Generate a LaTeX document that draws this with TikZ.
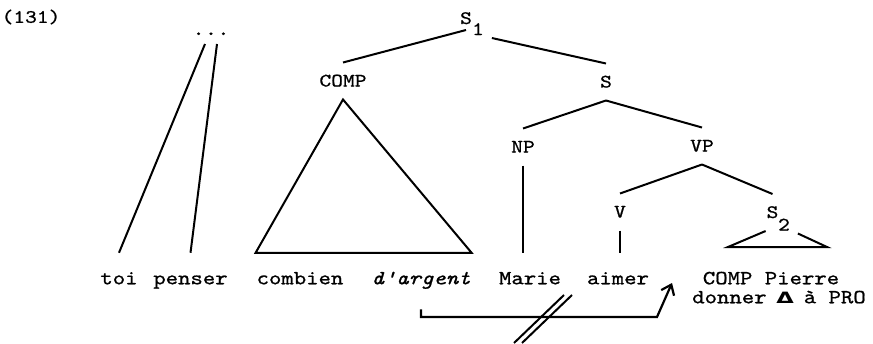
\documentclass[tikz,border=0pt]{standalone}
\usepackage{fontspec}
\usetikzlibrary{arrows.meta}
% typewriter face for labels and the example sentence, widened to Courier proportions
\newfontfamily\tw[FakeStretch=1.18,FakeBold=0.9,ItalicFont=lmmono10-italic.otf]{lmmono10-regular.otf}
\newfontfamily\symf{DejaVu Sans}
\newcommand\catf{\tw\fontsize{9.5pt}{11pt}\selectfont}
\newcommand\wordf{\tw\fontsize{10pt}{12pt}\selectfont}
\newcommand\deltamark{\makebox[6.2pt]{\scalebox{1.45}[1]{\symf\bfseries\fontsize{7.8pt}{9pt}\selectfont Δ}}}
\begin{document}
\begin{tikzpicture}[x=0.5pt,y=-0.5pt,line width=1pt,
  cat/.style={font=\catf,inner xsep=0pt,inner ysep=6pt,text height=5.5pt,text depth=0pt},
  sub/.style={font=\catf,inner xsep=3.5pt,inner ysep=1pt,text height=5pt,text depth=0pt},
  word/.style={font=\wordf,inner xsep=0pt,inner ysep=9.5pt,text height=5.75pt,text depth=0pt},
  trace/.style={line width=1.1pt,-{Straight Barb[length=4.5pt,width=7pt]}}]
\useasboundingbox (0,0) rectangle (873,343);

% example number
\node[font=\tw\fontsize{9.5pt}{11pt}\selectfont,inner sep=0pt] (num) at (31,17) {(131)};

% category labels
\node[cat,inner ysep=2.5pt] (s1) at (466,18.5) {S};
\node[sub] (s1sub) at (478,30) {1};
\node[cat] (comp) at (343,81) {COMP};
\node[cat] (s) at (606,82) {S};
\node[cat] (np) at (523,147) {NP};
\node[cat] (vp) at (702,146) {VP};
\node[cat] (v) at (620,212) {V};
\node[cat] (s2) at (772.5,212.5) {S};
\node[sub] (s2sub) at (784,225.5) {2};
\node[font=\wordf,inner xsep=0pt,inner ysep=4pt,text height=1pt,text depth=0pt] (dots) at (211,34) {...};

% terminal string
\node[word] (toi) at (119,278.5) {toi};
\node[word] (penser) at (190.5,278.5) {penser};
\node[word] (combien) at (300,278.5) {combien};
\node[word] (dargent) at (421,278.5) {\itshape d'argent};
\node[word] (marie) at (530,278.5) {Marie};
\node[word] (aimer) at (618,278.5) {aimer};
\node[word] (cp) at (771,278.5) {COMP Pierre};
\node[word] (donner) at (779,297.5) {donner \deltamark{} à PRO};

% branches
\draw (s1.south) -- (comp.north);
\draw (s1sub.south east) -- (s.north);
\draw (s.south) -- (np.north);
\draw (s.south) -- (vp.north);
\draw (vp.south) -- (v.north);
\draw (vp.south) -- (s2.north);
\draw (np.south) -- (np.south |- marie.north);
\draw (v.south) -- (v.south |- aimer.north);
\draw ([xshift=-3pt]dots.south) -- (toi.north);
\draw ([xshift=3pt]dots.south) -- (penser.north);
\draw (comp.south) -- (combien.north west) -- (dargent.north east) -- cycle;

% abbreviated S2 subtree
\coordinate (s2l) at (728,247);
\coordinate (s2r) at (827,247);
\draw (s2.south west) -- (s2l) -- (s2r) -- (s2sub.south east);

% blocked movement of d'argent
\coordinate (bend) at (657,317);
\coordinate (tip) at (672,283);
\draw[trace] ([yshift=-2.5pt]dargent.south) |- (bend) -- (tip);
\draw (572,295) -- (522,343);
\draw (564,295) -- (514,343);
\end{tikzpicture}
\end{document}
